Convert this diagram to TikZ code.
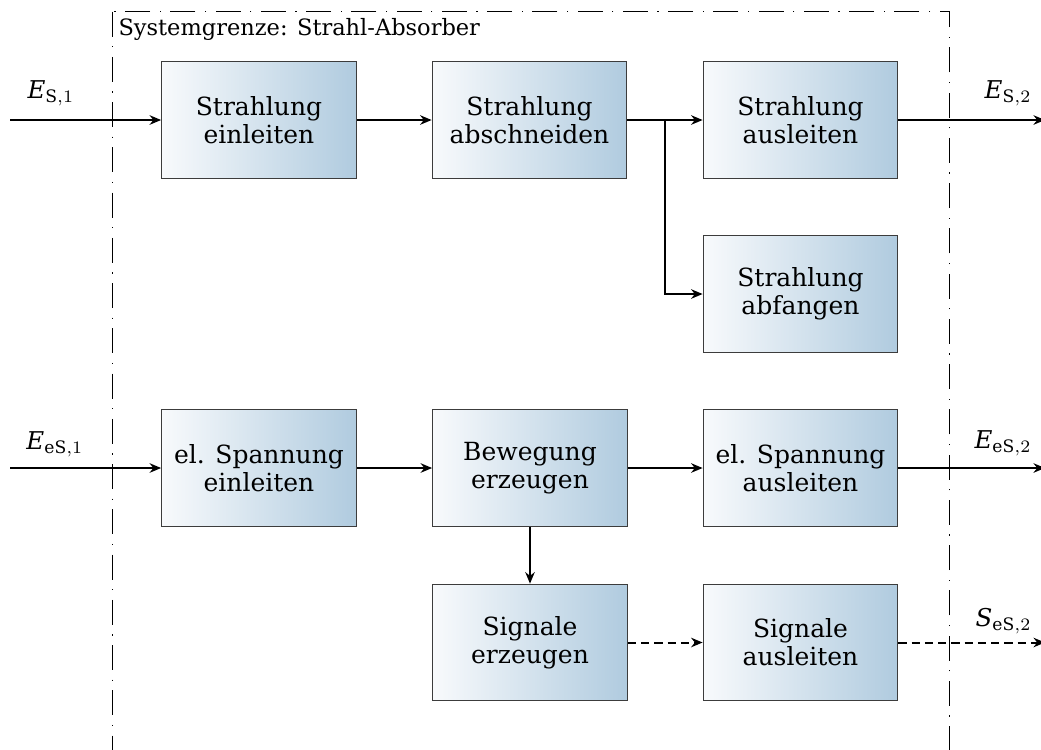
\documentclass[tikz,border=0pt]{standalone}
\usepackage{amsmath}
\usepackage{fontspec}
\setmainfont{DejaVu Serif}
\usetikzlibrary{arrows.meta,calc}

\definecolor{blkright}{RGB}{176,203,223}
\definecolor{blkleft}{RGB}{248,250,252}
\definecolor{blkline}{RGB}{60,60,60}

\newcommand{\blkfont}{\fontsize{10}{11.3}\selectfont}
\newcommand{\lblfont}{\fontsize{9}{10}\selectfont}
\newcommand{\flwfont}{\fontsize{9.8}{11}\selectfont}

\begin{document}
\begin{tikzpicture}[x=0.4pt,y=-0.4pt,
  blk/.style={draw=blkline, line width=0.5pt, left color=blkleft, right color=blkright,
    minimum width=77.8pt, minimum height=46.6pt, inner sep=0pt, align=center, font=\blkfont},
  flow/.style={line width=0.8pt, -{Stealth[length=4.6pt,width=3.8pt,inset=1.5pt]}},
  sig/.style={flow, dash pattern=on 3.3pt off 2pt},
  sysb/.style={line width=0.4pt, dash pattern=on 10pt off 3.8pt on 0.5pt off 3.8pt},
  ext/.style={anchor=base west, inner sep=0pt, font=\flwfont},
  exte/.style={anchor=base east, inner sep=0pt, font=\flwfont}]

\useasboundingbox (0,0) rectangle (1041,749);
\clip (0,0) rectangle (1041,749);

% system boundary
\draw[sysb] (112,11.5) rectangle (949,800);
\node[anchor=base west, inner sep=0pt, font=\lblfont] (sg) at (118,35.5) {Systemgrenze: Strahl-Absorber};

% function blocks
\node[blk] (b1) at (259,120) {Strahlung\\einleiten};
\node[blk] (b2) at (529.5,120) {Strahlung\\abschneiden};
\node[blk] (b3) at (800.5,120) {Strahlung\\ausleiten};
\node[blk] (b4) at (800.5,294) {Strahlung\\abfangen};
\node[blk] (b5) at (259,468) {el. Spannung\\einleiten};
\node[blk] (b6) at (530,468) {Bewegung\\erzeugen};
\node[blk] (b7) at (800.5,468) {el. Spannung\\ausleiten};
\node[blk] (b8) at (530,642.5) {Signale\\erzeugen};
\node[blk] (b9) at (800.5,642.5) {Signale\\ausleiten};

% free ends of the external flows
\coordinate (in1) at (10,120);
\coordinate (out1) at (1045,120);
\coordinate (in2) at (10,468);
\coordinate (out2) at (1045,468);
\coordinate (out3) at (1045,642.5);

% energy flow: radiation
\draw[flow] (in1) -- (b1.west);
\draw[flow] (b1.east) -- (b2.west);
\draw[flow] (b2.east) -- (b3.west);
\coordinate (br) at ($(b2.east)!0.5!(b3.west)$);
\draw[flow] (br) |- (b4.west);
\draw[flow] (b3.east) -- (out1);

% energy flow: electrical
\draw[flow] (in2) -- (b5.west);
\draw[flow] (b5.east) -- (b6.west);
\draw[flow] (b6.east) -- (b7.west);
\draw[flow] (b7.east) -- (out2);
\draw[flow] (b6.south) -- (b8.north);

% signal flow
\draw[sig] (b8.east) -- (b9.west);
\draw[sig] (b9.east) -- (out3);

% flow labels
\node[ext] (l1) at (27,98) {$\textit{E}_{\text{S},1}$};
\node[ext] (l2) at (26,449) {$\textit{E}_{\text{eS},1}$};
\node[exte] (l3) at (1032,98) {$\textit{E}_{\text{S},2}$};
\node[exte] (l4) at (1032,448) {$\textit{E}_{\text{eS},2}$};
\node[exte] (l5) at (1032,626.5) {$\textit{S}_{\text{eS},2}$};
\end{tikzpicture}
\end{document}
